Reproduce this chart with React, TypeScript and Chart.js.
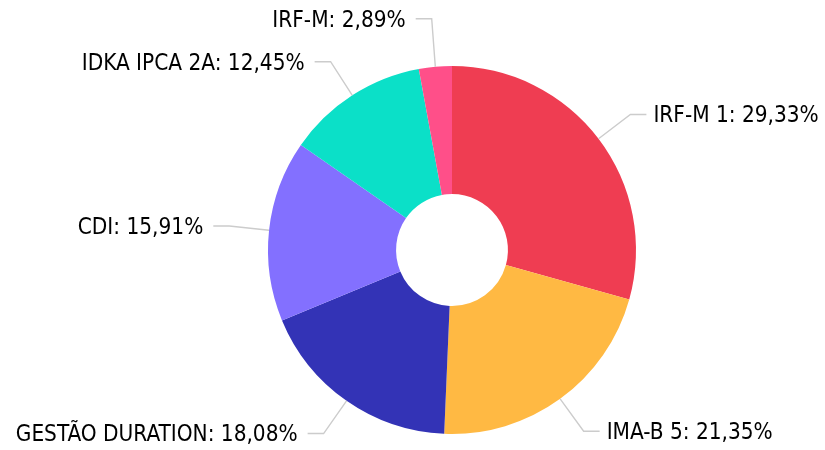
import React, { useEffect, useRef } from "react";
import { Chart, registerables } from "chart.js";

Chart.register(...registerables);

const categories = ["IRF-M 1", "IMA-B 5", "GESTÃO DURATION", "CDI", "IDKA IPCA 2A", "IRF-M"];
const shares = [29.33, 21.35, 18.08, 15.91, 12.45, 2.89];
const sliceColors = ["#EF3D52", "#FFB943", "#3333B6", "#8370FF", "#0BE0C8", "#FF4F89"];

const fmt = (v: number) => v.toFixed(2).replace(".", ",") + "%";

const leaderPlugin = {
  id: "leaderLabels",
  afterDraw(chart: any) {
    const ctx = chart.ctx;
    const meta = chart.getDatasetMeta(0);
    const labels = chart.data.labels as string[];
    const data = chart.data.datasets[0].data as number[];
    const items = meta.data.map((arc: any, i: number) => {
      const mid = (arc.startAngle + arc.endAngle) / 2;
      const dx = Math.cos(mid);
      const dy = Math.sin(mid);
      const R = arc.outerRadius;
      const ex = arc.x + R * dx;
      const ey = arc.y + R * dy;
      const ext = 40;
      return {
        ex,
        ey,
        bx: ex + ext * dx,
        by: ey + ext * dy,
        right: dx >= 0,
        text: `${labels[i]}: ${fmt(data[i])}`,
      };
    });
    // simple vertical collision avoidance per side
    const minGap = 43;
    [true, false].forEach((side) => {
      const list = items.filter((it: any) => it.right === side).sort((a: any, b: any) => a.by - b.by);
      for (let k = list.length - 2; k >= 0; k--) {
        if (list[k].by > list[k + 1].by - minGap) list[k].by = list[k + 1].by - minGap;
      }
    });
    ctx.save();
    ctx.font = '22.4px "DejaVu Sans Condensed", "DejaVu Sans"';
    ctx.textBaseline = "middle";
    ctx.fillStyle = "#000000";
    ctx.strokeStyle = "#cccccc";
    ctx.lineWidth = 1.4;
    items.forEach((it: any) => {
      const hx = it.bx + (it.right ? 16 : -16);
      ctx.beginPath();
      ctx.moveTo(it.ex, it.ey);
      ctx.lineTo(it.bx, it.by);
      ctx.lineTo(hx, it.by);
      ctx.stroke();
      ctx.textAlign = it.right ? "left" : "right";
      const tx = hx + (it.right ? 7 : -10);
      ctx.fillText(it.text, tx, it.by + 2);
    });
    ctx.restore();
  },
};

export default function App() {
  const ref = useRef<HTMLCanvasElement>(null);
  useEffect(() => {
    if (!ref.current) return;
    const chart = new Chart(ref.current, {
      type: "doughnut",
      data: {
        labels: categories,
        datasets: [
          {
            data: shares,
            backgroundColor: sliceColors,
            borderWidth: 0,
            hoverOffset: 0,
          },
        ],
      },
      options: {
        animation: false,
        responsive: false,
        radius: 184,
        cutout: "30.4%",
        layout: { padding: { left: 79, right: 0, top: 50, bottom: 0 } },
        plugins: {
          legend: { display: false },
          tooltip: { enabled: false },
        },
      },
      plugins: [leaderPlugin],
    });
    return () => chart.destroy();
  }, []);
  return (
    <div style={{ position: "absolute", left: 0, top: 0, width: 825, height: 450, background: "#fff" }}>
      <canvas ref={ref} width={825} height={450} style={{ width: 825, height: 450 }} />
    </div>
  );
}
